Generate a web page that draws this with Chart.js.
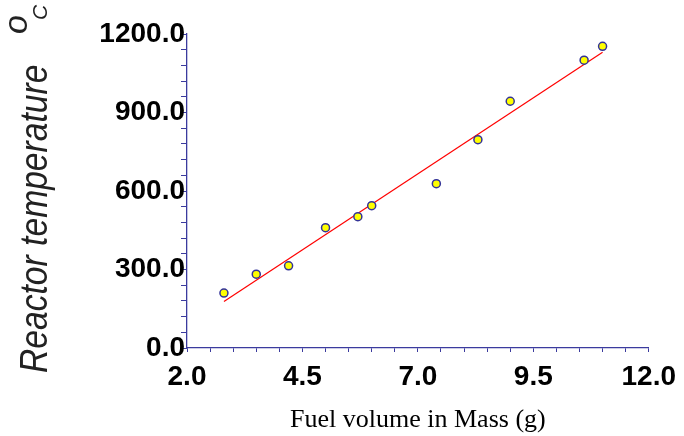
<!DOCTYPE html>
<html>
<head>
<meta charset="utf-8">
<script src="https://cdn.jsdelivr.net/npm/chart.js@4.4.1/dist/chart.umd.min.js"></script>
<style>
  body { margin: 0; background: #fff; }
  .wrap { width: 684px; height: 436px; }
</style>
</head>
<body>
<div class="wrap"><canvas class="graph"></canvas></div>
<script>
// data
const fuelMass = [2.8, 3.5, 4.2, 5.0, 5.7, 6.0, 7.4, 8.3, 9.0, 10.6, 11.0];
const reactorTemp = [210, 282, 314, 460, 502, 544, 628, 796, 943, 1100, 1153];
const fitX = [2.8, 11.0];
const fitY = [178, 1130];
const xTickLabels = ['2.0', '4.5', '7.0', '9.5', '12.0'];
const yTickLabels = ['0.0', '300.0', '600.0', '900.0', '1200.0'];

const axisBlue = '#3b3b9e';

// y title with the raised "o" and small "C"
const yTitle = {
    id: 'yTitle',
    afterDraw(chart) {
        const c = chart.ctx;
        c.save();
        c.translate(47, 373);
        c.rotate(-Math.PI / 2);
        c.fillStyle = '#222';
        c.textBaseline = 'alphabetic';
        c.textAlign = 'left';
        c.save();
        c.scale(0.885, 1);
        c.font = 'italic 38px "Liberation Sans"';
        c.fillText('Reactor temperature', 0, 0);
        c.restore();
        c.font = 'italic 34px "Liberation Sans"';
        c.fillText('o', 339, -20);
        c.font = 'italic 21px "Liberation Sans"';
        c.fillText('C', 353, 0);
        c.restore();
    }
};

const ctx = document.querySelector('.graph');
const myChart = new Chart(ctx, {
    type: 'scatter',
    data: {
        datasets: [{
            data: fuelMass.map((x, i) => ({ x: x, y: reactorTemp[i] })),
            pointRadius: 4,
            pointHoverRadius: 4,
            pointBorderWidth: 1.5,
            pointBackgroundColor: '#ffff00',
            pointBorderColor: '#333399'
        }, {
            type: 'line',
            data: fitX.map((x, i) => ({ x: x, y: fitY[i] })),
            borderColor: '#ff0000',
            borderWidth: 1.2,
            pointRadius: 0,
            fill: false
        }]
    },
    options: {
        responsive: true,
        maintainAspectRatio: false,
        animation: false,
        layout: { padding: { left: 0, top: 34, right: 35, bottom: 0 } },
        scales: {
            x: {
                type: 'linear',
                min: 2,
                max: 12,
                afterFit(scale) { scale.height = 88; },
                border: { display: true, color: axisBlue, width: 1.3 },
                grid: { drawOnChartArea: false, drawTicks: true, tickLength: 4, color: axisBlue, lineWidth: 1 },
                ticks: {
                    stepSize: 0.5,
                    autoSkip: false,
                    maxRotation: 0,
                    padding: 8,
                    color: '#000',
                    font: { family: 'Liberation Sans', size: 28, weight: 'bold' },
                    callback(v) {
                        const s = Number(v).toFixed(1);
                        return xTickLabels.includes(s) ? s : '';
                    }
                },
                title: {
                    display: true,
                    text: 'Fuel volume in Mass (g)',
                    color: '#000',
                    padding: { top: 0, bottom: 0 },
                    font: { family: 'Liberation Serif', size: 26, weight: 'normal' }
                }
            },
            y: {
                min: 0,
                max: 1200,
                afterFit(scale) { scale.width = 187; },
                border: { display: true, color: axisBlue, width: 1.3 },
                grid: { drawOnChartArea: false, drawTicks: true, tickLength: 6, color: axisBlue, lineWidth: 1 },
                ticks: {
                    stepSize: 60,
                    autoSkip: false,
                    padding: -4,
                    color: '#000',
                    font: { family: 'Liberation Sans', size: 28, weight: 'bold' },
                    callback(v) {
                        const s = Number(v).toFixed(1);
                        return yTickLabels.includes(s) ? s : '';
                    }
                }
            }
        },
        plugins: {
            legend: { display: false },
            tooltip: { enabled: false }
        }
    },
    plugins: [yTitle]
});
</script>
</body>
</html>
